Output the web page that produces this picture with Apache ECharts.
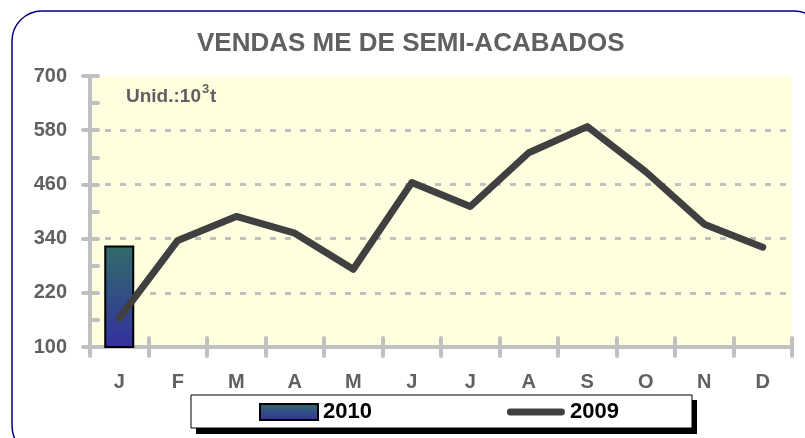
<!DOCTYPE html>
<html>
<head>
<meta charset="utf-8">
<title>Vendas ME de semi-acabados</title>
<script src="https://cdn.jsdelivr.net/npm/echarts@6/dist/echarts.min.js"></script>
<style>
    html, body { margin: 0; padding: 0; background: #fff; }
    #chart { width: 805px; height: 438px; }
</style>
</head>
<body>
<div id="chart"></div>
<script>
// meses
const months = ['J', 'F', 'M', 'A', 'M', 'J', 'J', 'A', 'S', 'O', 'N', 'D'];
// 2010 (só janeiro)
const sales2010 = [325, null, null, null, null, null, null, null, null, null, null, null];
// 2009
const sales2009 = [164, 336, 389, 352, 272, 464, 411, 530, 588, 488, 372, 321];
// eixo y
const yMin = 100;
const yMax = 700;
const yStep = 120;

const gray = '#c0c0c0';
const labelColor = '#606060';
const font = 'Liberation Sans, Arial, sans-serif';

var chart = echarts.init(document.getElementById('chart'));
const option = {
    animation: false,
    textStyle: { fontFamily: font },
    title: {
        text: 'VENDAS ME DE SEMI-ACABADOS',
        left: 197,
        top: 31,
        padding: 0,
        textStyle: { color: labelColor, fontSize: 26, fontWeight: 'bold', fontFamily: font }
    },
    graphic: [
        {
            type: 'rect', z: -10, silent: true,
            shape: { x: 12, y: 11, width: 812, height: 445, r: 30 },
            style: { fill: 'none', stroke: '#000080', lineWidth: 1.5 }
        },
        {
            type: 'rect', z: -9, silent: true,
            shape: { x: 196, y: 400, width: 501, height: 34 },
            style: { fill: '#000' }
        },
        {
            type: 'rect', z: -8, silent: true,
            shape: { x: 191, y: 395, width: 501, height: 33 },
            style: { fill: '#fff', stroke: '#000', lineWidth: 1 }
        },
        {
            type: 'text', z: 10, left: 126, top: 87,
            style: { text: 'Unid.:10', fill: labelColor, font: 'bold 19px ' + font }
        },
        {
            type: 'text', z: 10, left: 202, top: 83,
            style: { text: '3', fill: labelColor, font: 'bold 13px ' + font }
        },
        {
            type: 'text', z: 10, left: 210, top: 87,
            style: { text: 't', fill: labelColor, font: 'bold 19px ' + font }
        }
    ],
    legend: {
        left: 259,
        top: 401,
        padding: 0,
        itemWidth: 58,
        itemHeight: 16,
        itemGap: 135,
        selectedMode: false,
        textStyle: { color: '#000', fontSize: 22, fontWeight: 'bold', fontFamily: font, padding: [0, 0, 0, 0] },
        data: [
            { name: '2010', icon: 'rect' },
            {
                name: '2009',
                icon: 'path://M3.5,0 H56.5 A3.5,3.5 0 0 1 56.5,7 H3.5 A3.5,3.5 0 0 1 3.5,0 Z',
                itemStyle: { color: '#404040', borderWidth: 0 }
            }
        ]
    },
    grid: {
        left: 90,
        right: 13,
        top: 76,
        bottom: 91,
        show: true,
        backgroundColor: '#ffffe0',
        borderWidth: 0
    },
    xAxis: [
        {
            type: 'category',
            data: months,
            axisLine: { lineStyle: { color: gray, width: 4 } },
            axisTick: { show: true, inside: false, length: 9, lineStyle: { color: gray, width: 4, cap: 'round' } },
            axisLabel: { color: labelColor, fontSize: 20, fontWeight: 'bold', margin: 25 },
            splitLine: { show: false }
        },
        {
            type: 'category',
            data: months,
            position: 'bottom',
            axisLine: { show: false },
            axisTick: { show: true, inside: true, length: 9, lineStyle: { color: gray, width: 4, cap: 'round' } },
            axisLabel: { show: false },
            splitLine: { show: false }
        }
    ],
    yAxis: [
        {
            type: 'value',
            min: yMin,
            max: yMax,
            interval: yStep,
            axisLine: { show: true, lineStyle: { color: gray, width: 4 } },
            axisTick: { show: true, inside: false, length: 7, lineStyle: { color: gray, width: 4, cap: 'round' } },
            axisLabel: { color: labelColor, fontSize: 20, fontWeight: 'bold', margin: 23 },
            splitLine: {
                show: true,
                showMinLine: false,
                showMaxLine: false,
                lineStyle: { color: gray, width: 3, type: [6, 9] }
            }
        },
        {
            type: 'value',
            position: 'left',
            min: yMin,
            max: yMax,
            interval: yStep / 2,
            axisLine: { show: false },
            axisTick: { show: true, inside: true, length: 8, lineStyle: { color: gray, width: 4, cap: 'round' } },
            axisLabel: { show: false },
            splitLine: { show: false }
        }
    ],
    series: [
        {
            name: '2010',
            type: 'bar',
            barWidth: 30,
            data: sales2010,
            itemStyle: {
                borderColor: '#000',
                borderWidth: 2,
                color: new echarts.graphic.LinearGradient(0, 0, 0, 1, [
                    { offset: 0, color: '#306c68' },
                    { offset: 1, color: '#3430a0' }
                ])
            },
            z: 2
        },
        {
            name: '2009',
            type: 'line',
            data: sales2009,
            symbol: 'none',
            color: '#404040',
            lineStyle: { color: '#404040', width: 7, cap: 'round', join: 'round' },
            z: 3
        }
    ]
};
chart.setOption(option);
window.addEventListener('resize', function () {
    chart.resize();
});
</script>
</body>
</html>
